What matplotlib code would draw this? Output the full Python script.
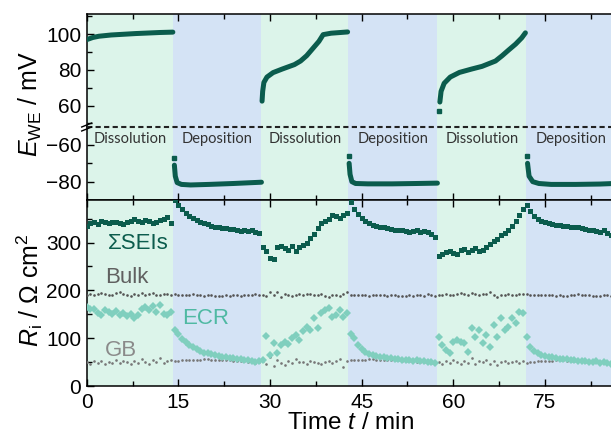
import numpy as np
import matplotlib
matplotlib.use('Agg')
import matplotlib.pyplot as plt
from matplotlib.lines import Line2D
from matplotlib.ticker import MultipleLocator

plt.rcParams['font.family'] = ['Liberation Sans', 'DejaVu Sans']
plt.rcParams['mathtext.fontset'] = 'custom'
plt.rcParams['mathtext.rm'] = 'Liberation Sans'
plt.rcParams['mathtext.it'] = 'Liberation Sans:italic'

# ---------------- data ----------------
# phase boundaries (min) and names
bounds = [0, 14.1, 28.6, 42.8, 57.4, 71.9, 86.3]
phase_names = ['Dissolution', 'Deposition', 'Dissolution', 'Deposition', 'Dissolution', 'Deposition']

# working electrode potential (mV), one list per half-cycle
t_dis1 = [0, 1, 2, 4, 6, 8, 10, 12, 14.1]
E_dis1 = [97.0, 98.2, 98.9, 99.6, 100.0, 100.4, 100.7, 101.0, 101.2]
t_dep1 = [14.35, 14.5, 14.8, 15.5, 17, 20, 24, 28.6]
E_dep1 = [-71, -77, -80.5, -81.5, -81.8, -81.5, -81.0, -80.3]
t_dis2 = [28.7, 28.8, 29.0, 29.5, 30.5, 32, 34, 35, 36, 37, 38, 38.7, 40, 42.7]
E_dis2 = [62.5, 68, 73, 76, 78.5, 80.5, 83, 85, 88, 92, 96, 99.8, 100.6, 101.3]
t_dep2 = [42.95, 43.1, 43.4, 44, 46, 50, 54, 57.4]
E_dep2 = [-70, -76, -80, -81, -81.2, -81.2, -81.0, -80.8]
t_dis3 = [57.8, 58.0, 58.5, 59.5, 61, 63, 64.7, 66.9, 68, 69, 70.2, 71.2, 71.8]
E_dis3 = [62, 68, 72.5, 76, 78.6, 80.5, 82, 85, 88, 91, 94.5, 98, 100.8]
t_dep3 = [72.15, 72.4, 73, 74, 76, 80, 84, 86.3]
E_dep3 = [-70, -77, -80, -81, -81.5, -81.5, -81.3, -81.0]
# isolated first points of some half-cycles
t_first_hi = [57.7]
E_first_hi = [57]
t_first_lo = [14.3, 42.9, 72.1]
E_first_lo = [-67, -66, -66]

# impedance fit results, sampled every 0.6 min
t_imp = np.round(np.arange(144) * 0.6, 1)
R_SEI = [335, 340, 342, 338, 345, 343, 340, 342, 344, 341, 338, 343, 346, 350, 345, 342, 348, 346, 340, 344, 348, 350, 353, 340,
         388, 378, 370, 362, 356, 351, 347, 344, 341, 338, 335, 333, 332, 331, 330, 328, 328, 327, 325, 326, 324, 326, 322, 320,
         290, 283, 268, 266, 290, 292, 289, 285, 292, 283, 290, 295, 300, 310, 318, 330, 340, 345, 350, 358, 355, 352, 358, 362,
         385, 370, 360, 352, 345, 340, 337, 335, 333, 332, 330, 328, 327, 326, 326, 325, 323, 324, 326, 322, 325, 322, 318, 312,
         272, 276, 280, 282, 279, 276, 284, 286, 281, 284, 288, 282, 285, 290, 296, 303, 308, 315, 320, 327, 335, 345, 358, 370,
         378, 365, 356, 350, 346, 343, 340, 338, 337, 336, 335, 334, 333, 332, 332, 330, 328, 327, 326, 325, 322, 326, 320, 316]
R_ECR = [166, 160, 162, 152, 148, 158, 154, 150, 156, 149, 152, 146, 150, 143, 148, 160, 165, 158, 168, 155, 170, 150, 148, 155,
         118, 108, 99, 92, 86, 81, 77, 73, 70, 68, 66, 64, 62, 61, 60, 59, 58, 57, 56, 55, 54, 52, 50, 53,
         55, 105, 65, 90, 70, 85, 93, 88, 100, 107, 96, 114, 124, 118, 142, 121, 152, 159, 163, 145, 149, 159, 145, 152,
         108, 100, 86, 78, 72, 67, 64, 62, 61, 60, 59, 58, 57, 56, 55, 55, 54, 53, 54, 53, 52, 51, 50, 49,
         103, 85, 75, 70, 93, 96, 92, 89, 72, 121, 103, 117, 89, 107, 82, 128, 103, 142, 118, 124, 142, 131, 155, 152,
         103, 82, 74, 68, 65, 63, 61, 60, 58, 57, 56, 56, 55, 54, 53, 53, 52, 51, 50, 52, 49, 50, 48, 47]
R_bulk = [190, 192, 191, 193, 195, 192, 190, 191, 194, 196, 193, 190, 189, 192, 191, 194, 190, 193, 195, 191, 190, 192, 193, 191,
          192, 191, 191, 190, 191, 192, 191, 190, 189, 190, 190, 189, 188, 189, 190, 189, 190, 190, 189, 190, 191, 190, 193, 191,
          190, 188, 196, 190, 197, 186, 193, 190, 189, 191, 192, 190, 193, 192, 191, 190, 192, 189, 187, 190, 191, 189, 193, 196,
          191, 190, 190, 191, 190, 189, 190, 190, 191, 190, 189, 190, 190, 189, 188, 189, 190, 189, 190, 191, 189, 193, 190, 189,
          190, 191, 192, 190, 191, 193, 194, 192, 191, 195, 192, 190, 192, 193, 196, 190, 187, 191, 190, 192, 191, 190, 193, 192,
          192, 191, 191, 190, 190, 191, 190, 190, 189, 190, 189, 189, 190, 191, 192, 191, 190, 190, 189, 189, 188, 190, 191, 188]
R_GB = [50, 47, 52, 48, 53, 46, 51, 49, 55, 48, 52, 50, 46, 53, 49, 57, 51, 47, 54, 50, 58, 48, 52, 55,
        53, 53, 54, 54, 54, 55, 55, 55, 56, 56, 55, 55, 54, 54, 55, 54, 53, 53, 52, 52, 51, 50, 48, 50,
        52, 47, 60, 42, 55, 48, 44, 53, 49, 57, 51, 50, 46, 52, 51, 49, 47, 50, 53, 48, 52, 56, 40, 52,
        54, 54, 55, 55, 55, 56, 56, 55, 55, 54, 54, 55, 54, 54, 53, 53, 52, 52, 51, 51, 50, 50, 49, 50,
        50, 46, 53, 48, 55, 50, 46, 52, 49, 58, 45, 53, 50, 55, 47, 52, 44, 50, 53, 48, 50, 52, 49, 53,
        48, 50, 51, 52, 52, 53, 53, 53, 54, 54, 54, 53, 53, 52, 53, 52, 51, 52, 51, 50, 50, 51, 50, 50]

x_ticks = [0, 15, 30, 45, 60, 75]

# ---------------- style ----------------
c_dis = '#dcf4ea'
c_dep = '#d4e3f5'
c_dark = '#0b5c4d'
c_ecr = '#80cfbe'
c_ecr_txt = '#4fb9a3'
c_bulk = '#555555'
c_gb = '#777777'

W, H = 611, 436
fig = plt.figure(figsize=(W / 100, H / 100), dpi=100)

def pos(x0, y0, x1, y1):
    return [x0 / W, 1 - y1 / H, (x1 - x0) / W, (y1 - y0) / H]

xl, xr = 86.7, 614.0
ax_hi = fig.add_axes(pos(xl, 14.3, xr, 127))
ax_lo = fig.add_axes(pos(xl, 127, xr, 200))
ax_r = fig.add_axes(pos(xl, 200, xr, 386))

for ax in (ax_hi, ax_lo, ax_r):
    ax.set_xlim(0, 86.3)
    for i in range(len(bounds) - 1):
        ax.axvspan(bounds[i], bounds[i + 1], color=c_dis if i % 2 == 0 else c_dep, lw=0, zorder=0)
    ax.xaxis.set_major_locator(MultipleLocator(15))
    ax.xaxis.set_minor_locator(MultipleLocator(7.5))
    ax.spines['right'].set_visible(False)
    for s in ax.spines.values():
        s.set_linewidth(1.1)
    ax.tick_params(which='both', direction='in', width=1.0, labelsize=15)
    ax.tick_params(which='major', length=5)
    ax.tick_params(which='minor', length=3.5)

# upper part of potential panel
ax_hi.set_ylim(48, 111.2)
ax_hi.spines['bottom'].set_visible(False)
ax_hi.tick_params(axis='x', which='both', top=True, bottom=False, labelbottom=False)
ax_hi.set_yticks([60, 80, 100])
ax_hi.yaxis.set_minor_locator(MultipleLocator(10))
ax_hi.tick_params(axis='y', pad=4)
for tt, ee in [(t_dis1, E_dis1), (t_dis2, E_dis2), (t_dis3, E_dis3)]:
    ax_hi.plot(tt, ee, color=c_dark, lw=3.6, solid_capstyle='round', zorder=3)
ax_hi.plot(t_first_hi, E_first_hi, 's', color=c_dark, ms=3.5, zorder=3)

# lower part of potential panel
ax_lo.set_ylim(-90, -50.2)
ax_lo.spines['top'].set_visible(False)
ax_lo.tick_params(axis='x', which='both', top=False, bottom=True, labelbottom=False)
ax_lo.set_yticks([-80, -60])
ax_lo.yaxis.set_minor_locator(MultipleLocator(10))
ax_lo.tick_params(axis='y', pad=4)
for tt, ee in [(t_dep1, E_dep1), (t_dep2, E_dep2), (t_dep3, E_dep3)]:
    ax_lo.plot(tt, ee, color=c_dark, lw=3.6, solid_capstyle='round', zorder=3)
ax_lo.plot(t_first_lo, E_first_lo, 's', color=c_dark, ms=3.0, zorder=3)
ax_lo.plot([0, 1], [1, 1], transform=ax_lo.transAxes, color='#222222', lw=1.5,
           ls=(0, (2.5, 1.6)), clip_on=False, zorder=5)
for i, name in enumerate(phase_names):
    ax_lo.text((bounds[i] + min(bounds[i + 1], 86.0)) / 2 if i < 5 else 79.2, -56.7, name,
               ha='center', va='center', fontsize=10.5, family=['Lato', 'DejaVu Sans'], color='#333333')

# break marks on the left spine
bx, by = xl / W, 1 - 127 / H
for dy in (-2.0, 2.0):
    fig.add_artist(Line2D([bx - 5 / W, bx + 5 / W], [by + (dy - 2) / H, by + (dy + 2) / H],
                          color='black', lw=1.0, transform=fig.transFigure))

# resistance panel
ax_r.set_ylim(0, 389)
ax_r.set_yticks([0, 100, 200, 300])
ax_r.yaxis.set_minor_locator(MultipleLocator(50))
ax_r.set_xticks(x_ticks)
ax_r.tick_params(axis='x', which='both', top=True, bottom=True, pad=5.0)
ax_r.tick_params(axis='y', pad=4)
ax_r.plot(t_imp, R_bulk, 'o', color=c_bulk, ms=1.9, mew=0, zorder=3)
ax_r.plot(t_imp, R_GB, 'o', color=c_gb, ms=1.9, mew=0, zorder=3)
ax_r.plot(t_imp, R_ECR, 'D', color=c_ecr, ms=4.0, mew=0, zorder=4)
ax_r.plot(t_imp, R_SEI, 's', color=c_dark, ms=3.6, mew=0, zorder=5)
ax_r.text(3.4, 299, 'ΣSEIs', color=c_dark, fontsize=16, va='center')
ax_r.text(3.0, 226, 'Bulk', color='#606060', fontsize=16, va='center')
ax_r.text(15.6, 142, 'ECR', color=c_ecr_txt, fontsize=16, va='center')
ax_r.text(3.0, 75, 'GB', color='#8a8a8a', fontsize=16, va='center')
ax_r.set_xlabel('Time $t$ / min', fontsize=17.5, labelpad=0)

fig.text(30 / W, 1 - 104 / H, '$E_{\\mathrm{WE}}$ / mV', rotation=90, fontsize=18,
         ha='center', va='center')
fig.text(30 / W, 1 - 290 / H, '$R_{\\mathrm{i}}$ / Ω cm$^{2}$', rotation=90, fontsize=18,
         ha='center', va='center')

fig.savefig('out.png', dpi=100)
